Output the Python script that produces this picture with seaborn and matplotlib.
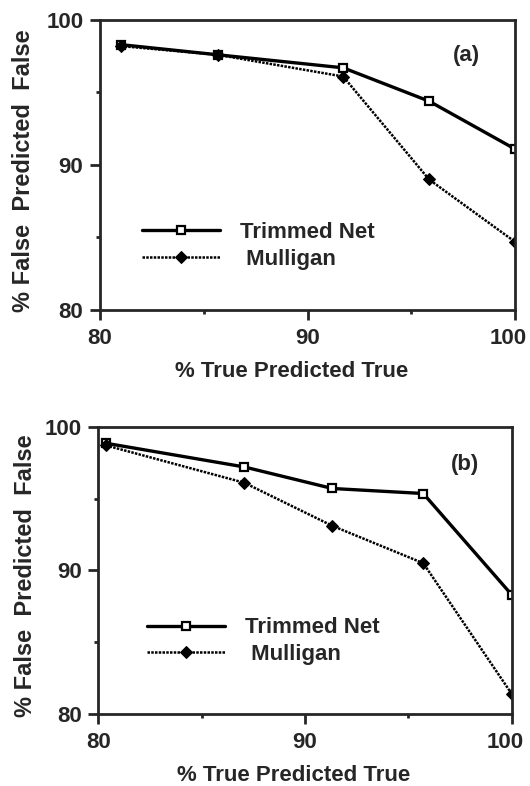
import numpy as np
import pandas as pd
import matplotlib
matplotlib.use('Agg')
import matplotlib.pyplot as plt
import matplotlib.transforms as mtransforms
import seaborn as sns

# panel (a)
a_true = [81.0, 85.67, 91.72, 95.86, 100.0]
a_trimmed = [98.3, 97.6, 96.7, 94.4, 91.1]
a_mulligan = [98.2, 97.6, 96.1, 89.0, 84.7]

# panel (b)
b_true = [80.37, 87.06, 91.32, 95.72, 100.0]
b_trimmed = [98.85, 97.2, 95.7, 95.35, 88.3]
b_mulligan = [98.7, 96.1, 93.1, 90.5, 81.4]

panels = [
    ('(a)', pd.DataFrame({'x': a_true, 'y': a_trimmed}), pd.DataFrame({'x': a_true, 'y': a_mulligan})),
    ('(b)', pd.DataFrame({'x': b_true, 'y': b_trimmed}), pd.DataFrame({'x': b_true, 'y': b_mulligan})),
]

sns.set_style('ticks')
plt.rcParams['font.family'] = ['Liberation Sans', 'DejaVu Sans']
plt.rcParams['font.weight'] = 'bold'
plt.rcParams['axes.labelweight'] = 'bold'
fs = 16

fig = plt.figure(figsize=(5.3, 7.86), dpi=100)
axes = [fig.add_axes([0.1887, 0.6056, 0.783, 0.369]),
        fig.add_axes([0.1855, 0.0916, 0.780, 0.3655])]

# per panel placement: legend anchor, tag pos, ylabel x, xlabel (x, y)
place = [
    dict(leg=(0.053, 0.373), tag=(0.884, 0.876), ylab=-0.157, xlab=(0.461, -0.176)),
    dict(leg=(0.069, 0.406), tag=(0.888, 0.87), ylab=-0.149, xlab=(0.473, -0.177)),
]

for ax, (tag, trim, mull), p in zip(axes, panels, place):
    sns.lineplot(data=trim, x='x', y='y', ax=ax, color='black', lw=2.4,
                 marker='s', ms=5.5, mfc='white', mec='black', mew=1.6,
                 label='Trimmed Net')
    sns.lineplot(data=mull, x='x', y='y', ax=ax, color='black', lw=1.8,
                 linestyle=(0, (1, 0.5)), marker='D', ms=6, mfc='black',
                 mec='black', label=' Mulligan')
    ax.set_xlim(80, 100)
    ax.set_ylim(80, 100)
    ax.set_xticks([80, 90, 100])
    ax.set_yticks([80, 90, 100])
    ax.set_xticks([85, 95], minor=True)
    ax.set_yticks([85, 95], minor=True)
    ax.tick_params(which='major', length=7, width=2, direction='out',
                   labelsize=fs)
    ax.tick_params(axis='x', which='major', pad=6)
    ax.tick_params(axis='y', which='major', pad=5)
    ax.tick_params(which='minor', length=3, width=2, direction='out')
    for sp in ax.spines.values():
        sp.set_linewidth(2)
    # the "100" label sits a little left of its tick, as in the scan
    lbl = ax.xaxis.get_major_ticks()[-1].label1
    lbl.set_transform(lbl.get_transform() +
                      mtransforms.ScaledTranslation(-7 / 100, 0, fig.dpi_scale_trans))
    ax.set_xlabel('% True Predicted True', fontsize=fs)
    ax.set_ylabel('% False  Predicted  False', fontsize=17)
    ax.xaxis.set_label_coords(*p['xlab'])
    ax.yaxis.set_label_coords(p['ylab'], 0.48)
    ax.text(*p['tag'], tag, transform=ax.transAxes, fontsize=fs,
            ha='center', va='center')
    ax.legend(loc='upper left', bbox_to_anchor=p['leg'], frameon=False,
              fontsize=fs, handlelength=3.5, handletextpad=0.9,
              labelspacing=0.26)

fig.savefig('out.png', dpi=100)
